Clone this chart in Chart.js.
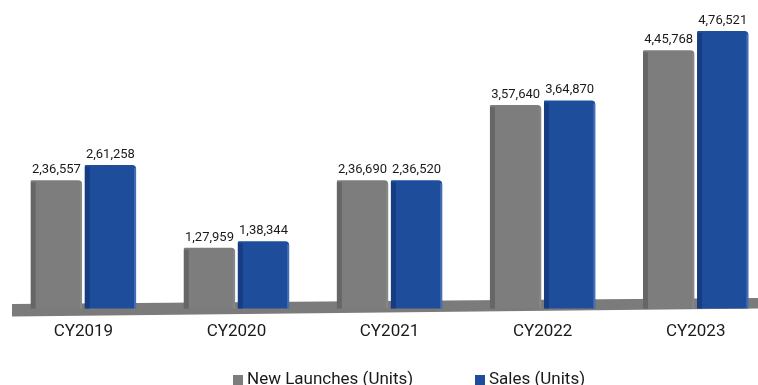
<!DOCTYPE html>
<html>
<head>
<meta charset="utf-8">
<script src="https://cdn.jsdelivr.net/npm/chart.js"></script>
<style>
  html, body { margin: 0; padding: 0; background: #fff; }
  canvas { display: block; }
</style>
</head>
<body>
<canvas id="myChart" width="758" height="385"></canvas>
<script>
// years and series (units)
const years = ["CY2019", "CY2020", "CY2021", "CY2022", "CY2023"];
const newLaunches = [236557, 127959, 236690, 357640, 445768];
const sales = [261258, 138344, 236520, 364870, 476521];
const seriesNames = ["New Launches (Units)", "Sales (Units)"];

const GRAY = "#7d7d7d";
const BLUE = "#1e4d9c";

// 2,36,557 style grouping
const fmtIN = (n) => {
    const s = String(n);
    const last3 = s.slice(-3);
    const rest = s.slice(0, -3).replace(/\B(?=(\d{2})+(?!\d))/g, ",");
    return rest ? rest + "," + last3 : last3;
};

// slanted grey floor under the bars
const floorPlugin = {
    id: "floor",
    beforeDatasetsDraw(chart) {
        const { ctx, chartArea } = chart;
        const b = chartArea.bottom;
        ctx.save();
        ctx.fillStyle = "#7b7b7b";
        ctx.beginPath();
        ctx.moveTo(12, b - 4.5);
        ctx.lineTo(chart.width, b - 10.7);
        ctx.lineTo(chart.width, b);
        ctx.lineTo(12, b + 8);
        ctx.closePath();
        ctx.fill();
        ctx.restore();
    }
};

// side shading on each bar + value labels on top
const barDecor = {
    id: "barDecor",
    afterDatasetsDraw(chart) {
        const { ctx, chartArea } = chart;
        ctx.save();
        chart.data.datasets.forEach((ds, di) => {
            const meta = chart.getDatasetMeta(di);
            meta.data.forEach((bar, i) => {
                const left = bar.x - bar.width / 2;
                const top = Math.max(bar.y, chartArea.top);
                const h = chartArea.bottom - top;
                ctx.fillStyle = di === 0 ? "rgba(60,60,60,0.35)" : "rgba(10,30,80,0.35)";
                ctx.fillRect(left, top + 2, 5, h - 2);
                ctx.fillStyle = di === 0 ? "rgba(255,255,255,0.08)" : "rgba(120,150,210,0.45)";
                ctx.fillRect(left + bar.width - 2, top + 3, 2, h - 3);

                ctx.fillStyle = "#1a1a1a";
                ctx.font = "13px Roboto";
                ctx.textAlign = "center";
                ctx.textBaseline = "alphabetic";
                ctx.fillText(fmtIN(ds.data[i]), bar.x, bar.y - 7);
            });
        });
        ctx.restore();
    }
};

// legend row at the bottom
const legendRow = {
    id: "legendRow",
    afterDraw(chart) {
        const { ctx } = chart;
        const boxX = [233, 475];
        ctx.save();
        ctx.font = "17px Roboto";
        ctx.textBaseline = "middle";
        ctx.textAlign = "left";
        chart.data.datasets.forEach((ds, di) => {
            ctx.fillStyle = ds.backgroundColor;
            ctx.fillRect(boxX[di], 375, 10, 10);
            ctx.fillStyle = "#1a1a1a";
            ctx.fillText(ds.label, boxX[di] + 14, 380);
        });
        ctx.restore();
    }
};

const ctx = document.getElementById("myChart").getContext("2d");
const chart = new Chart(ctx, {
    type: "bar",
    data: {
        labels: years,
        datasets: [
            {
                label: seriesNames[0],
                data: newLaunches,
                backgroundColor: GRAY,
                borderRadius: { topLeft: 1, topRight: 4 },
                borderSkipped: "bottom",
                clip: { left: 100, right: 100, top: 30, bottom: 0 },
            },
            {
                label: seriesNames[1],
                data: sales,
                backgroundColor: BLUE,
                borderRadius: { topLeft: 1, topRight: 4 },
                borderSkipped: "bottom",
                clip: { left: 100, right: 100, top: 30, bottom: 0 },
            },
        ],
    },
    options: {
        responsive: false,
        animation: false,
        devicePixelRatio: 1,
        categoryPercentage: 0.706,
        barPercentage: 0.95,
        layout: { padding: { left: 83.4, right: 62.3, top: 16.5, bottom: 30 } },
        plugins: {
            legend: { display: false },
            tooltip: { enabled: false },
        },
        scales: {
            x: {
                offset: false,
                grid: { display: false, drawTicks: false },
                border: { display: false },
                ticks: {
                    padding: 13,
                    color: "#1a1a1a",
                    font: { family: "Roboto", size: 17 },
                    maxRotation: 0,
                    autoSkip: false,
                },
            },
            y: {
                display: false,
                min: 30000,
                max: 500000,
            },
        },
    },
    plugins: [floorPlugin, barDecor, legendRow],
});
</script>
</body>
</html>
